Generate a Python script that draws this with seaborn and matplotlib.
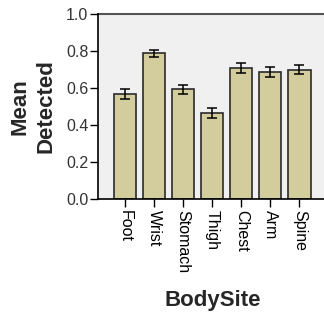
import pandas as pd
import seaborn as sns
import matplotlib.pyplot as plt

sites = ["Foot", "Wrist", "Stomach", "Thigh", "Chest", "Arm", "Spine"]
means = [0.567, 0.788, 0.592, 0.465, 0.708, 0.687, 0.698]
errs = [0.027, 0.019, 0.025, 0.027, 0.025, 0.026, 0.025]

df = pd.DataFrame({"BodySite": sites, "Mean": means, "Err": errs})

sns.set_style("white")
plt.rcParams["font.family"] = ["Liberation Sans", "DejaVu Sans"]

fig = plt.figure(figsize=(3.24, 3.13), dpi=100)
ax = fig.add_axes([98 / 324, 114 / 313, 228.5 / 324, 185 / 313])
ax.set_facecolor("#f0f0f0")

sns.barplot(data=df, x="BodySite", y="Mean", color="#d3cc9c", saturation=1,
            width=0.76, edgecolor="#2b2b2b", linewidth=1.2, errorbar=None, ax=ax)
ax.errorbar(x=df["BodySite"], y=df["Mean"], yerr=df["Err"], fmt="none",
            ecolor="black", elinewidth=1.1, capsize=3.5, capthick=1.1)

ax.set_ylim(0, 1.0)
ax.set_yticks([0.0, 0.2, 0.4, 0.6, 0.8, 1.0])
ax.set_yticklabels(["0.0", "0.2", "0.4", "0.6", "0.8", "1.0"])
ax.set_xlim(-0.93, 6.93)

for side in ["top", "right"]:
    ax.spines[side].set_visible(False)
ax.axhline(1.0, color="#555555", lw=1.5, clip_on=False)
ax.spines["left"].set_color("black")
ax.spines["bottom"].set_color("black")
ax.spines["left"].set_linewidth(1.2)
ax.spines["bottom"].set_linewidth(1.2)

ax.tick_params(axis="y", direction="out", length=6, width=1, pad=1,
               labelsize=11.5, colors="black", labelcolor="#333333", left=True)
ax.tick_params(axis="x", direction="out", length=6, width=1, pad=2,
               labelsize=11.5, colors="black", labelcolor="black", bottom=True)
plt.setp(ax.get_xticklabels(), rotation=-90, ha="center", va="top")

ax.set_xlabel("BodySite", fontsize=16, fontweight="bold", labelpad=12)
ax.set_ylabel("Mean\nDetected", fontsize=16, fontweight="bold", labelpad=7,
              linespacing=1.3)

fig.savefig("out.png", dpi=100)
